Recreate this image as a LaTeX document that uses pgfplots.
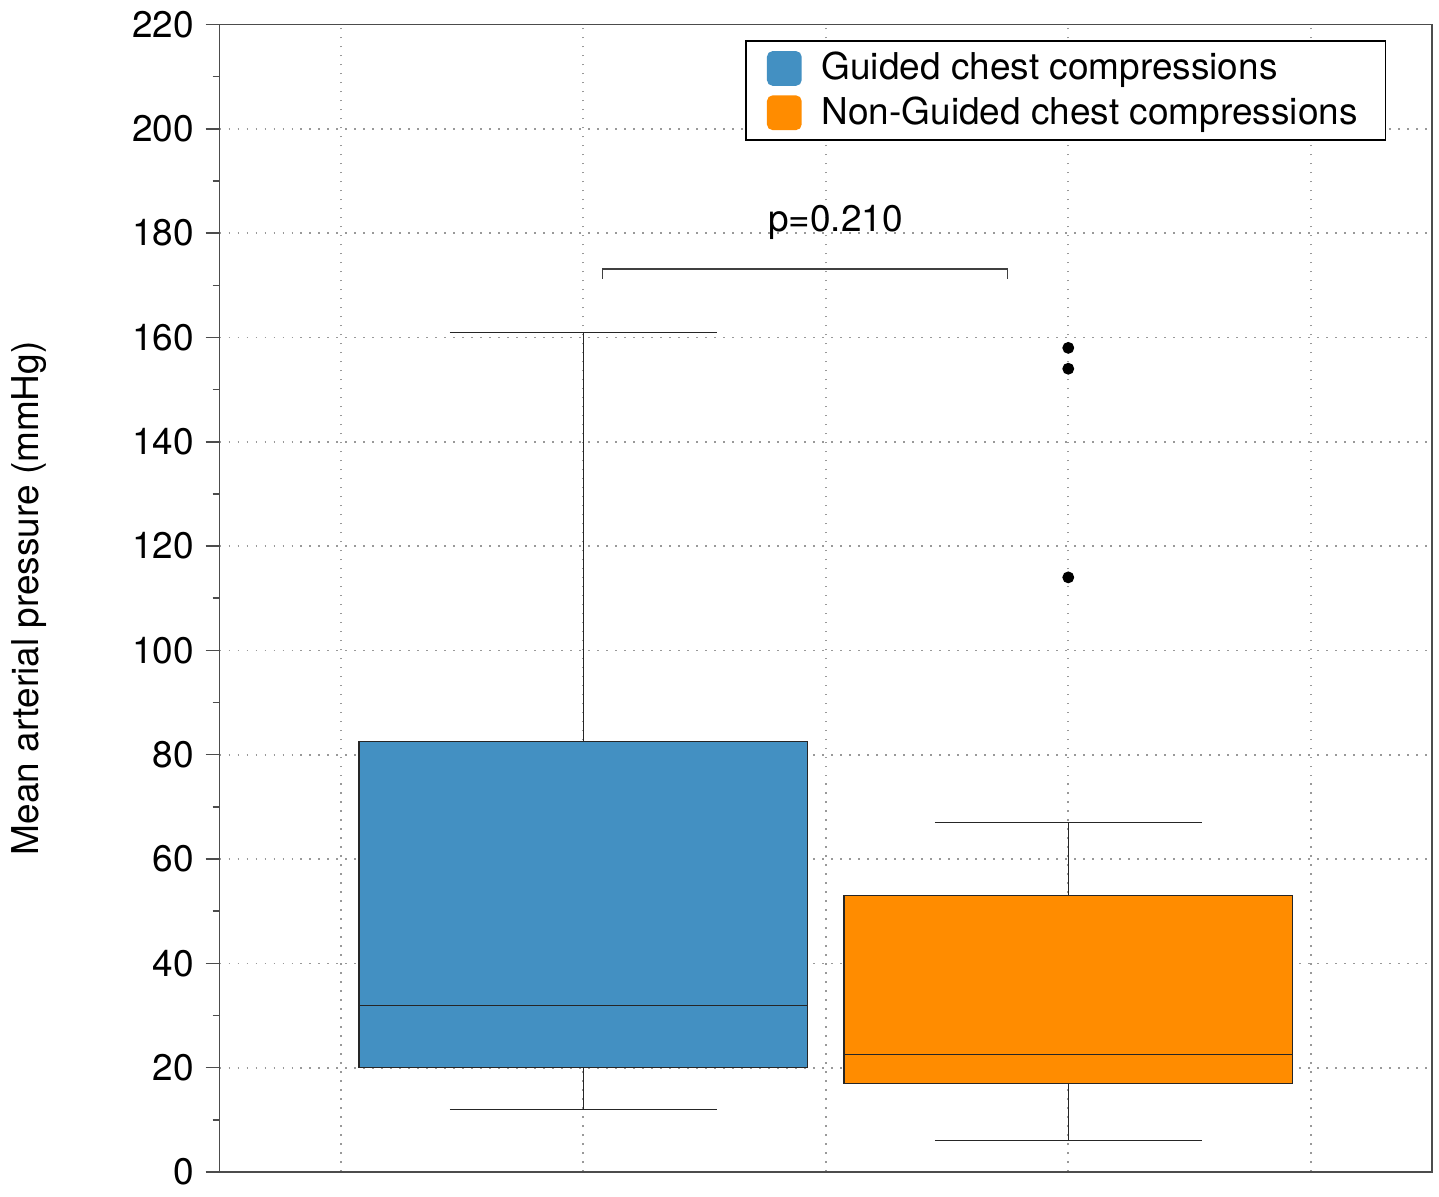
\documentclass[border=0pt]{standalone}
\usepackage{fontspec}
\setmainfont{TeX Gyre Heros}
\usepackage{pgfplots}
\pgfplotsset{compat=1.18}
\usepgfplotslibrary{statistics}
\definecolor{blueC}{RGB}{67,144,194}
\definecolor{orangeC}{RGB}{255,140,0}
\begin{document}
\begin{tikzpicture}[font=\fontsize{11.1pt}{13pt}\selectfont]
\begin{axis}[
  scale only axis,
  width=363.9pt, height=344.4pt,
  xmin=0.5, xmax=5.5,
  ymin=0, ymax=220,
  xtick={1,2,3,4,5}, xticklabels={},
  xtick style={draw=none},
  x tick label style={overlay},
  ytick={0,20,...,220},
  minor ytick={10,30,...,210},
  tick align=outside,
  ytick pos=left,
  major tick length=4.2pt,
  minor tick length=2.1pt,
  every tick/.style={black!70, line width=0.45pt},
  axis line style={black!70, line width=0.45pt},
  xmajorgrids, ymajorgrids,
  major grid style={gray!80, line width=0.5pt, dash pattern=on 0.5pt off 2.2pt},
  /pgf/number format/assume math mode=true,
  ylabel={Mean arterial pressure (mmHg)},
  every axis y label/.style={at={(axis description cs:0,0.5)}, rotate=90, anchor=center, yshift=57.3pt},
  legend style={at={(rel axis cs:1,1)}, anchor=north east, xshift=-13.8pt, yshift=-4.8pt,
    draw=black, line width=0.4pt,
    inner xsep=6.3pt, inner ysep=1.3pt, row sep=-0.5pt},
  legend cell align=left,
  boxplot/draw direction=y,
]
\addlegendimage{legend image code/.code={\fill[blueC, rounded corners=1.5pt] (0pt,-5pt) rectangle (10pt,5pt); \path (14pt,0pt);}}
\addlegendentry{Guided chest compressions}
\addlegendimage{legend image code/.code={\fill[orangeC, rounded corners=1.5pt] (0pt,-5pt) rectangle (10pt,5pt); \path (14pt,0pt);}}
\addlegendentry{Non-Guided chest compressions\hspace{7.5pt}}

\addplot[forget plot, boxplot prepared={draw position=2, lower whisker=12, lower quartile=20, median=32, upper quartile=82.5, upper whisker=161, box extend=1.85, whisker extend=1.1}, fill=blueC, draw=black!85, line width=0.35pt] coordinates {};

\addplot[forget plot, boxplot prepared={draw position=4, lower whisker=6, lower quartile=17, median=22.5, upper quartile=53, upper whisker=67, box extend=1.85, whisker extend=1.1}, fill=orangeC, draw=black!85, line width=0.35pt, mark=*, mark size=1.6pt, mark options={fill=black, draw=black}] table[row sep=\\, y index=0] {data\\ 158\\ 154\\ 114\\};

\addplot[forget plot, black!75, line width=0.4pt] coordinates {(2.08,171.3) (2.08,173.1) (3.75,173.1) (3.75,171.3)};
\node at (axis cs:3.04,182.1) {p=0.210};
\end{axis}
\path ([shift={(-65.7pt,-4.2pt)}]current axis.south west) rectangle ([shift={(2.1pt,6.9pt)}]current axis.north east);
\end{tikzpicture}
\end{document}
